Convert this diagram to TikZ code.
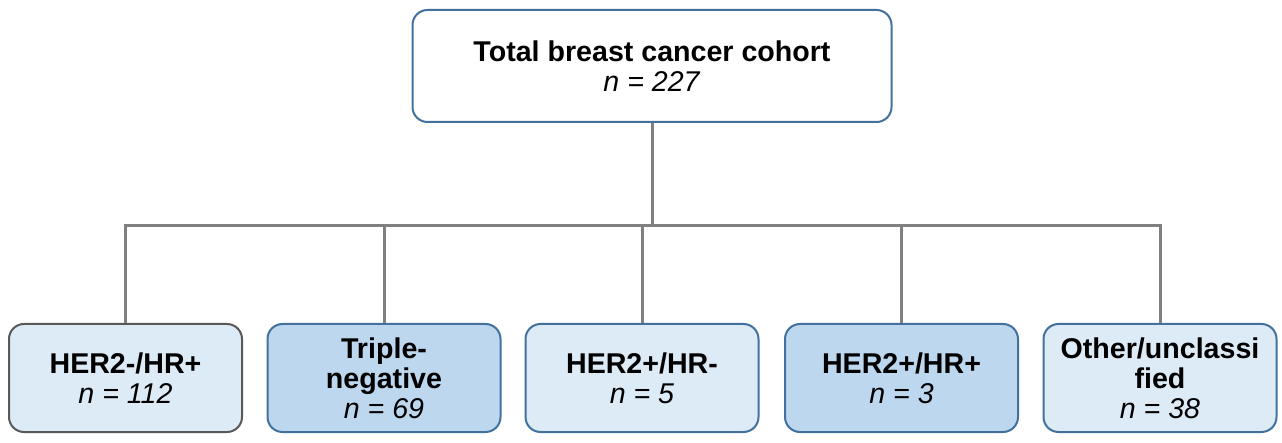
\documentclass[tikz,border=0pt]{standalone}
\usepackage{fontspec}
\setmainfont{Liberation Sans}
\definecolor{bordblue}{HTML}{41719C}
\definecolor{bordgray}{HTML}{595959}
\definecolor{filllight}{HTML}{DDEBF7}
\definecolor{filldark}{HTML}{BDD7EE}
\definecolor{linegray}{HTML}{808080}
\begin{document}
\begin{tikzpicture}[x=1pt,y=1pt,
  boxbase/.style={rectangle, rounded corners=15pt, line width=2pt, align=center,
    inner sep=0pt, font=\fontsize{28.6}{30}\selectfont},
  topbox/.style={boxbase, draw=bordblue, fill=white, minimum width=479pt, minimum height=112pt},
  catbox/.style={boxbase, minimum width=233pt, minimum height=108pt},
  conn/.style={draw=linegray, line width=3pt}]
\useasboundingbox (0,0) rectangle (1282,442);
\coordinate (bus) at (652,216);
\node[topbox] (top) at (652,376) {\textbf{Total breast cancer cohort}\\\textit{n = 227}};
\node[catbox, draw=bordgray, fill=filllight] (b1) at (125.5,64) {\textbf{HER2-/HR+}\\\textit{n = 112}};
\node[catbox, draw=bordblue, fill=filldark] (b2) at (384,64) {\textbf{Triple-}\\\textbf{negative}\\\textit{n = 69}};
\node[catbox, draw=bordblue, fill=filllight] (b3) at (642,64) {\textbf{HER2+/HR-}\\\textit{n = 5}};
\node[catbox, draw=bordblue, fill=filldark] (b4) at (901.5,64) {\textbf{HER2+/HR+}\\\textit{n = 3}};
\node[catbox, draw=bordblue, fill=filllight] (b5) at (1160,64) {\textbf{Other/unclassi}\\\textbf{fied}\\\textit{n = 38}};
\draw[conn] (top.south) -- (top.south |- bus);
\draw[conn] (b1.north) -- (b1.north |- bus) -- (b5.north |- bus) -- (b5.north);
\draw[conn] (b2.north) -- (b2.north |- bus);
\draw[conn] (b3.north) -- (b3.north |- bus);
\draw[conn] (b4.north) -- (b4.north |- bus);
\end{tikzpicture}
\end{document}
